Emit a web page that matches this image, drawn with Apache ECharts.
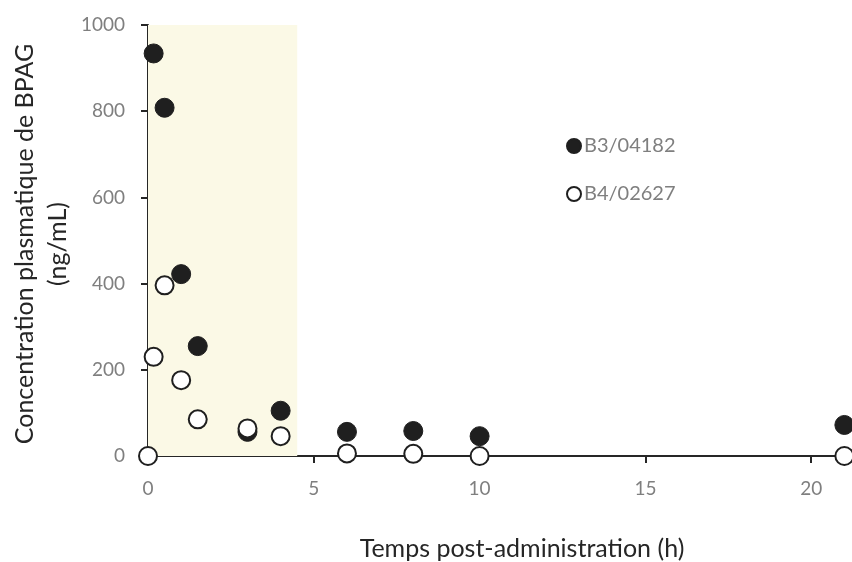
<!DOCTYPE html>
<html>
<head>
<meta charset="utf-8">
<script src="https://cdn.jsdelivr.net/npm/echarts@6/dist/echarts.min.js"></script>
<style>
  html, body { margin: 0; padding: 0; background: #fff; }
  #chart { width: 852px; height: 562px; }
</style>
</head>
<body>
<div id="chart"></div>
<script>
// Plasma BPAG concentration (ng/mL) vs time after administration (h)
const seriesNames = ['B3/04182', 'B4/02627'];
const timesB3 = [0.17, 0.5, 1, 1.5, 3, 4, 6, 8, 10, 21];
const concB3  = [934, 808, 422, 255, 56, 105, 56, 58, 46, 72];
const timesB4 = [0, 0.17, 0.5, 1, 1.5, 3, 4, 6, 8, 10, 21];
const concB4  = [0, 230, 396, 176, 85, 64, 46, 6, 5, 0, 0];
const xTicks = [0, 5, 10, 15, 20];
const yTicks = [0, 200, 400, 600, 800, 1000];
const shadedWindow = [0, 4.5];   // administration period highlighted on the plot

const FONT = 'Lato, "Open Sans", sans-serif';
const pair = (xs, ys) => xs.map((x, i) => [x, ys[i]]);

const chart = echarts.init(document.getElementById('chart'), null, { renderer: 'canvas' });
chart.setOption({
  animation: false,
  backgroundColor: '#ffffff',
  grid: { left: 148, top: 25, width: 703, height: 431, containLabel: false },
  xAxis: {
    type: 'value', min: 0, max: 21.2,
    splitLine: { show: false },
    axisLine: { lineStyle: { color: '#262626', width: 2 } },
    axisTick: { show: true, length: 7, inside: false, customValues: xTicks.slice(1),
                lineStyle: { color: '#262626', width: 2 } },
    axisLabel: { customValues: xTicks, color: '#7f7f7f', fontSize: 19, fontFamily: FONT, margin: 23 }
  },
  yAxis: {
    type: 'value', min: 0, max: 1000, interval: 200,
    splitLine: { show: false },
    axisLine: { show: true, lineStyle: { color: '#262626', width: 2 } },
    axisTick: { show: true, length: 7, customValues: yTicks, lineStyle: { color: '#262626', width: 2 } },
    axisLabel: { customValues: yTicks, color: '#7f7f7f', fontSize: 19, fontFamily: FONT, margin: 23,
                 formatter: v => String(v) }
  },
  legend: {
    orient: 'vertical', left: 561, top: 131, itemGap: 28,
    itemWidth: 14, itemHeight: 14, icon: 'circle',
    textStyle: { color: '#7f7f7f', fontSize: 20, fontFamily: FONT, padding: [0, 0, 0, -2] },
    data: seriesNames
  },
  graphic: [
    { type: 'text', x: 522, y: 549, style: {
        text: 'Temps post-administration (h)', fill: '#262626', fontSize: 25, fontFamily: FONT,
        align: 'center', verticalAlign: 'middle' } },
    { type: 'text', x: 41, y: 244, rotation: Math.PI / 2, style: {
        text: 'Concentration plasmatique de BPAG\n(ng/mL)', fill: '#262626', fontSize: 25,
        fontFamily: FONT, align: 'center', verticalAlign: 'middle', lineHeight: 33 } }
  ],
  series: [
    {
      name: seriesNames[0], type: 'scatter', clip: false, symbolSize: 19, z: 3,
      itemStyle: { color: '#1f1f1f', borderColor: '#1f1f1f', borderWidth: 1, opacity: 1 },
      data: pair(timesB3, concB3),
      markArea: {
        silent: true,
        itemStyle: { color: '#fbf9e6', opacity: 1 },
        data: [[{ coord: [shadedWindow[0], 0] }, { coord: [shadedWindow[1], 1000] }]]
      }
    },
    {
      name: seriesNames[1], type: 'scatter', clip: false, symbolSize: 18, z: 4,
      itemStyle: { color: '#ffffff', borderColor: '#1f1f1f', borderWidth: 2, opacity: 1 },
      data: pair(timesB4, concB4)
    }
  ]
});
</script>
</body>
</html>
